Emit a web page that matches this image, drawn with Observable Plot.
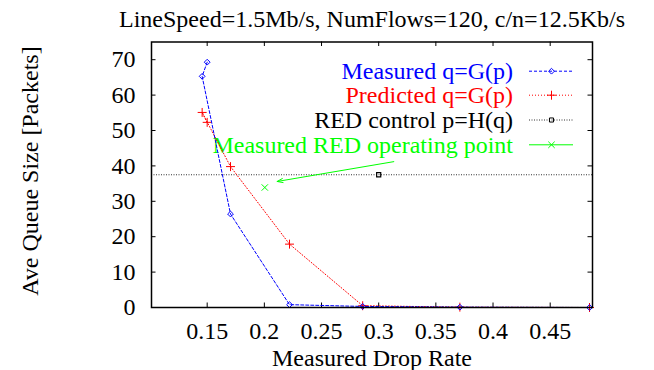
<!DOCTYPE html>
<html><head><meta charset="utf-8">
<script src="https://cdn.jsdelivr.net/npm/d3@7"></script>
<script src="https://cdn.jsdelivr.net/npm/@observablehq/plot@0.6"></script>
<style>body{margin:0;background:#fff}</style>
</head><body><div id="chart"></div>
<script>
// ---- data ----
const titleText = "LineSpeed=1.5Mb/s, NumFlows=120, c/n=12.5Kb/s";
const xLabel = "Measured Drop Rate";
const yLabel = "Ave Queue Size [Packets]";
const dropRate = [0.150, 0.1456, 0.1704, 0.222, 0.286, 0.371, 0.4844];
const queueMeasured = [69.3, 65.3, 26.4, 0.8, 0.3, 0.1, 0.0];
const queuePredicted = [52.3, 55.1, 39.8, 17.9, 0.5, 0.1, 0.0];
const redControlQ = [37.5];
const redControlP = [0.300];
const operatingP = [0.2004];
const operatingQ = [33.9];
const arrowFrom = [0.3132, 41.2];
const arrowTo = [0.2112, 35.6];
const xTicks = [0.15, 0.2, 0.25, 0.3, 0.35, 0.4, 0.45];
const yTicks = [0, 10, 20, 30, 40, 50, 60, 70];
const xDomain = [0.1013, 0.487];
const yDomain = [0, 75];
const legendLabels = ["Measured q=G(p)", "Predicted q=G(p)", "RED control p=H(q)", "Measured RED operating point"];

// ---- layout / styles ----
const W = 654, H = 370, mL = 151, mR = 62, mT = 41.5, mB = 63;
const innerW = W - mL - mR, innerH = H - mT - mB;
const BLUE = "#0000ff", RED = "#ff0000", BLACK = "#000000", GREEN = "#00ff00";
const legendStyle = [
  {color: BLUE, dash: "3,2", symbol: "diamond2", r: 2.6},
  {color: RED, dash: "1,2", symbol: "plus", r: 3},
  {color: "#333", dash: "1,1.5", symbol: "square2", r: 2.6, markStroke: BLACK},
  {color: GREEN, dash: null, symbol: "times", r: 3}
];
const rowY = [29.2, 53.2, 78, 102.8];

const measured = dropRate.map((p, i) => ({p, q: queueMeasured[i]}));
const predicted = dropRate.map((p, i) => ({p, q: queuePredicted[i]}));
const control = redControlP.map((p, i) => ({p, q: redControlQ[i]}));
const operating = operatingP.map((p, i) => ({p, q: operatingQ[i]}));
const arrowData = [{x1: arrowFrom[0], y1: arrowFrom[1], x2: arrowTo[0], y2: arrowTo[1]}];

const legendMarks = legendLabels.flatMap((label, i) => {
  const s = legendStyle[i];
  return [
    Plot.text([label], {text: d => d, frameAnchor: "top-right", textAnchor: "end", lineAnchor: "bottom",
      dx: -79.5, dy: rowY[i] + 8, fill: i === 2 ? BLACK : s.color}),
    Plot.ruleY([yDomain[1]], {dy: rowY[i], insetLeft: 378, insetRight: 19, stroke: s.color,
      strokeDasharray: s.dash, strokeWidth: 1}),
    Plot.dot([label], {frameAnchor: "top-right", dx: -41, dy: rowY[i], symbol: s.symbol, r: s.r,
      stroke: s.markStroke || s.color, fill: "none", strokeWidth: 1})
  ];
});

const chart = Plot.plot({
  width: W, height: H,
  marginLeft: mL, marginRight: mR, marginTop: mT, marginBottom: mB,
  style: {fontFamily: "'Liberation Serif', 'DejaVu Serif', serif", fontSize: "24px", background: "white", color: "black"},
  x: {domain: xDomain, axis: null},
  y: {domain: yDomain, axis: null},
  marks: [
    ...legendMarks,
    Plot.axisX(xTicks, {tickSize: 0, tickPadding: 14, tickFormat: d => String(d), label: null}),
    Plot.axisY(yTicks, {tickSize: 0, tickPadding: 16, tickFormat: d => String(d), label: null}),
    Plot.tickX(xTicks, {x: d => d, insetTop: innerH - 4.5, stroke: BLACK}),
    Plot.tickX(xTicks, {x: d => d, insetBottom: innerH - 4.5, stroke: BLACK}),
    Plot.tickY(yTicks, {y: d => d, insetRight: innerW - 4.5, stroke: BLACK}),
    Plot.tickY(yTicks, {y: d => d, insetLeft: innerW - 4.5, stroke: BLACK}),
    Plot.ruleY(redControlQ, {stroke: "#333", strokeDasharray: "1,1.5", strokeWidth: 1}),
    Plot.line(predicted, {x: "p", y: "q", stroke: RED, strokeDasharray: "1,2", strokeWidth: 1}),
    Plot.dot(predicted, {x: "p", y: "q", symbol: "plus", r: 3, stroke: RED, strokeWidth: 1}),
    Plot.line(measured, {x: "p", y: "q", stroke: BLUE, strokeDasharray: "3,2", strokeWidth: 1}),
    Plot.dot(measured, {x: "p", y: "q", symbol: "diamond2", r: 2.6, stroke: BLUE, fill: "none", strokeWidth: 1}),
    Plot.dot(control, {x: "p", y: "q", symbol: "square2", r: 2.6, stroke: BLACK, fill: "none", strokeWidth: 1.2}),
    Plot.dot(operating, {x: "p", y: "q", symbol: "times", r: 3, stroke: GREEN, strokeWidth: 1}),
    Plot.arrow(arrowData, {x1: "x1", y1: "y1", x2: "x2", y2: "y2", stroke: GREEN, strokeWidth: 1, headLength: 9, headAngle: 40}),
    Plot.frame({stroke: BLACK, strokeWidth: 1.5}),
    Plot.text([titleText], {text: d => d, frameAnchor: "top", lineAnchor: "bottom", dy: -14.8}),
    Plot.text([xLabel], {text: d => d, frameAnchor: "bottom", lineAnchor: "bottom", dy: 58}),
    Plot.text([yLabel], {text: d => d, frameAnchor: "left", textAnchor: "middle", lineAnchor: "bottom", rotate: -90, dx: -114, dy: -3.7})
  ]
});
document.getElementById("chart").appendChild(chart);
</script>
</body></html>
